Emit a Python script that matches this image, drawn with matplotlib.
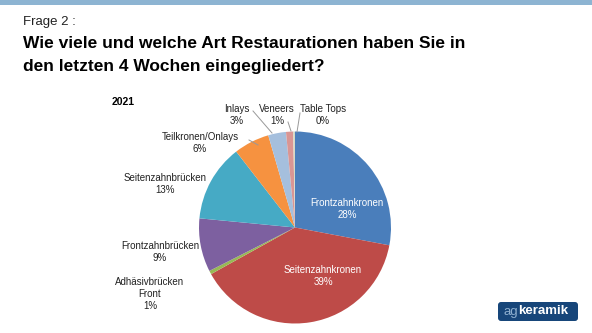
import matplotlib.pyplot as plt
from matplotlib.patches import Rectangle, FancyBboxPatch

plt.rcParams['font.family'] = ['Liberation Sans', 'DejaVu Sans']

# data
categories = ['Frontzahnkronen', 'Seitenzahnkronen', 'Adhäsivbrücken\nFront', 'Frontzahnbrücken',
              'Seitenzahnbrücken', 'Teilkronen/Onlays', 'Inlays', 'Veneers', 'Table Tops']
values = [28, 39, 0.6, 9, 13, 6, 3, 1.2, 0.3]
pct_labels = ['28%', '39%', '1%', '9%', '13%', '6%', '3%', '1%', '0%']
colors = ['#4A7EBB', '#BE4B48', '#98B954', '#7D60A0', '#46AAC5', '#F69240', '#A5BFDD', '#D99694', '#D5D9C4']

W, H = 592, 333
fig = plt.figure(figsize=(W / 100, H / 100), dpi=100)
ax = fig.add_axes([0, 0, 1, 1])

# pie in pixel-like coordinates (y up)
cx, cy, r = 295, H - 227.5, 96
ax.pie(values, colors=colors, startangle=90, counterclock=False,
       center=(cx, cy), radius=r, frame=True,
       wedgeprops=dict(linewidth=0))
ax.set_xlim(0, W)
ax.set_ylim(0, H)
ax.set_aspect('auto')
ax.axis('off')

def py(y):
    return H - y

# top bar
ax.add_patch(Rectangle((0, py(5)), W, 5, color='#8DB4D2', lw=0))

# titles
ax.text(23, py(22), 'Frage 2 :', fontsize=9.5, va='center', ha='left', color='#222222')
ax.text(23, py(44), 'Wie viele und welche Art Restaurationen haben Sie in',
        fontsize=12.5, fontweight='bold', va='center', ha='left')
ax.text(23, py(67), 'den letzten 4 Wochen eingegliedert?',
        fontsize=12.5, fontweight='bold', va='center', ha='left')
ax.text(112, py(102), '2021', fontsize=7.5, fontweight='bold', va='center', ha='left')

lab_fs = 7
# label positions (pixel coords of label centre)
label_pos = {
    0: (347, 209, 'white'),
    1: (323, 276, 'white'),
    2: (150, 294, '#222222'),
    3: (160, 252, '#222222'),
    4: (165, 184, '#222222'),
    5: (200, 143, '#222222'),
    6: (237, 115, '#222222'),
    7: (277, 115, '#222222'),
    8: (323, 115, '#222222'),
}
for i, (x, y, c) in label_pos.items():
    ax.text(x, py(y), categories[i] + '\n' + pct_labels[i], fontsize=lab_fs,
            color=c, ha='center', va='center', linespacing=1.25)

# leader lines
leaders = [((249, 140), (258, 145)),
           ((253, 111), (272, 133)),
           ((288, 122), (291, 131)),
           ((300, 113), (297, 132))]
for (x0, y0), (x1, y1) in leaders:
    ax.plot([x0, x1], [py(y0), py(y1)], color='#999999', lw=0.7)

# logo
ax.add_patch(FancyBboxPatch((498, py(321)), 80, 19, boxstyle='round,pad=0,rounding_size=3',
                            fc='#17467A', ec='none'))
ag = ax.text(503, py(311.5), 'ag', fontsize=9.5, color='#8FB0D0', va='center', ha='left')
ax.annotate('keramik', xy=(1, 0.5), xycoords=ag, xytext=(0.3, 0), textcoords='offset points',
            fontsize=9.5, fontweight='bold', color='white', va='center', ha='left')

fig.savefig('out.png', dpi=100)
